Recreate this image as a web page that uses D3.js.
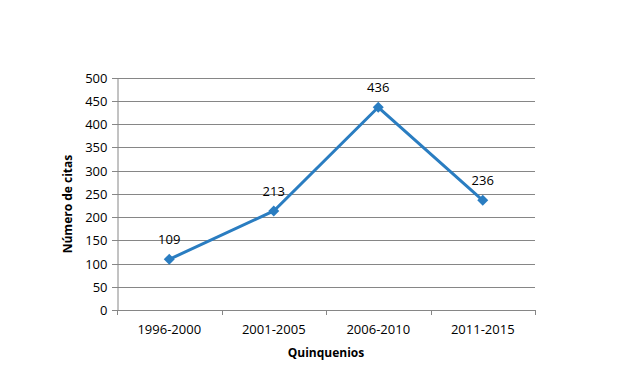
<!DOCTYPE html>
<html><head><meta charset="utf-8">
<script src="https://cdn.jsdelivr.net/npm/d3@7"></script>
<style>body{margin:0;background:#fff}svg{display:block}text{font-family:"Open Sans","Noto Sans",sans-serif}</style>
</head><body><svg id="c" width="644" height="388"></svg>
<script>
const categories = ["1996-2000","2001-2005","2006-2010","2011-2015"];
const values = [109,213,436,236];
const yTicks = [0,50,100,150,200,250,300,350,400,450,500];
const xTitle = "Quinquenios";
const yTitle = "Número de citas";

const svg = d3.select("#c");
const L=117,R=535,T=77.5,B=310;
const x = d3.scaleBand().domain(categories).range([L,R]);
const y = d3.scaleLinear().domain([0,500]).range([B,T]);
const color="#2a7dc1";

svg.append("g").selectAll("line").data(yTicks).join("line")
  .attr("x1",L-5).attr("x2",R).attr("y1",d=>Math.round(y(d))+0.5).attr("y2",d=>Math.round(y(d))+0.5)
  .attr("stroke","#868686").attr("stroke-width",1);
const ya = svg.append("g").attr("transform",`translate(${L+0.5},0)`)
  .call(d3.axisLeft(y).tickValues(yTicks).tickSize(0).tickPadding(10));
ya.select(".domain").attr("stroke","#868686");
ya.selectAll("text").attr("font-size",13).attr("fill","#000").attr("dy","0.35em");
const xa = svg.append("g").attr("transform",`translate(0,${Math.round(B)+0.5})`)
  .call(d3.axisBottom(x).tickSize(0).tickPadding(14));
xa.select(".domain").remove();
xa.selectAll("text").attr("font-size",13).attr("fill","#000");
svg.append("g").selectAll("line").data(categories.concat(["__end"])).join("line")
  .attr("x1",(d,i)=>Math.round(L+i*x.step())+0.5).attr("x2",(d,i)=>Math.round(L+i*x.step())+0.5)
  .attr("y1",B).attr("y2",B+5).attr("stroke","#868686");

const cx = d=>x(d)+x.bandwidth()/2;
const line = d3.line().x((d,i)=>cx(categories[i])).y(d=>y(d));
svg.append("path").datum(values).attr("d",line).attr("fill","none").attr("stroke",color).attr("stroke-width",3);
svg.append("g").selectAll("path").data(values).join("path")
  .attr("d","M0,-5.5L5.5,0L0,5.5L-5.5,0Z")
  .attr("transform",(d,i)=>`translate(${cx(categories[i])},${y(d)})`).attr("fill",color);
svg.append("g").selectAll("text").data(values).join("text")
  .attr("x",(d,i)=>cx(categories[i])).attr("y",d=>y(d)-15).attr("text-anchor","middle")
  .attr("font-size",13).text(d=>d);

svg.append("text").attr("x",(L+R)/2).attr("y",357).attr("text-anchor","middle")
  .attr("font-size",12).attr("font-weight","bold").text(xTitle);
svg.append("text").attr("transform",`translate(72,204) rotate(-90)`).attr("text-anchor","middle")
  .attr("font-size",12).attr("font-weight","bold").text(yTitle);
</script></body></html>
